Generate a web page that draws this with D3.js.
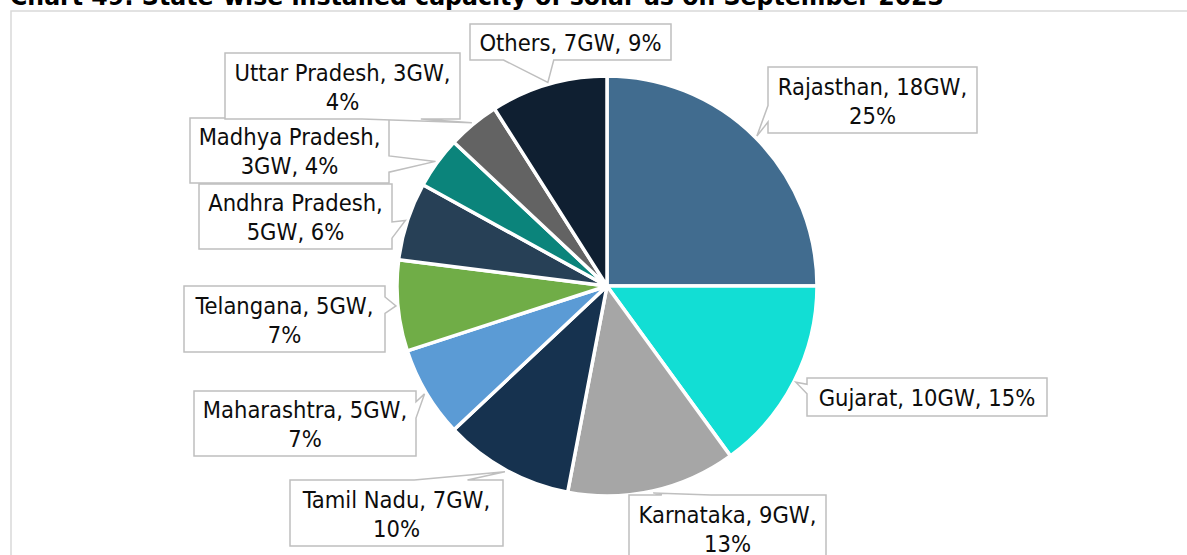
<!DOCTYPE html>
<html>
<head>
<meta charset="utf-8">
<script src="https://cdn.jsdelivr.net/npm/d3@7"></script>
<style>
  body { margin: 0; background: #fff; }
  svg { display: block; }
</style>
</head>
<body>
<svg id="chart" width="1187" height="555"></svg>
<script>
// State-wise installed solar capacity (September 2023)
const states = ["Rajasthan", "Gujarat", "Karnataka", "Tamil Nadu", "Maharashtra",
                "Telangana", "Andhra Pradesh", "Madhya Pradesh", "Uttar Pradesh", "Others"];
const capacityGW = [18, 10, 9, 7, 5, 5, 5, 3, 3, 7];
const sharePct = [25, 15, 13, 10, 7, 7, 6, 4, 4, 9];
const sliceColors = ["#416c8f", "#12ded4", "#a6a6a6", "#16324f", "#5b9bd5",
                     "#70ad47", "#274056", "#0b847b", "#636363", "#0f1f31"];

// Callout layout: box [x, y, w, h] and number of words on the first line (0 = single line)
const calloutBoxes = [
  [768, 67, 209, 66], [807, 378, 240, 38], [629, 495, 197, 66], [290, 480, 213, 66],
  [194, 391, 222, 65], [184, 286, 201, 66], [199, 184, 193, 65], [190, 118, 199, 65],
  [225, 53, 235, 66], [470, 24, 201, 36]
];
const firstLineWords = [2, 0, 2, 3, 2, 2, 2, 2, 3, 0];

const W = 1187, H = 555;
const cx = 607, cy = 286, R = 210;
const FONT = "'DejaVu Sans Condensed', 'DejaVu Sans', Tahoma, sans-serif";

const svg = d3.select("#chart");

// Chart area frame
svg.append("rect")
  .attr("x", 11).attr("y", 11)
  .attr("width", W + 20).attr("height", H + 20)
  .attr("fill", "#fff")
  .attr("stroke", "#d9d9d9").attr("stroke-width", 1.5);

// Title (sits above the frame, partly clipped by the page edge)
svg.append("text")
  .attr("x", 10).attr("y", 4.5)
  .attr("font-family", FONT)
  .attr("font-stretch", "condensed")
  .attr("font-weight", "bold")
  .attr("font-size", 24)
  .attr("textLength", 934)
  .attr("lengthAdjust", "spacingAndGlyphs")
  .attr("fill", "#000")
  .text("Chart 49: State-wise installed capacity of solar as on September 2023");

// Pie
const data = states.map((s, i) => ({ state: s, gw: capacityGW[i], pct: sharePct[i], color: sliceColors[i], i }));
const pie = d3.pie().sort(null).value(d => d.pct);
const arcs = pie(data);
const arc = d3.arc().innerRadius(0).outerRadius(R);

const g = svg.append("g").attr("transform", `translate(${cx},${cy})`);
g.selectAll("path.slice")
  .data(arcs)
  .join("path")
  .attr("class", "slice")
  .attr("d", arc)
  .attr("fill", d => d.data.color)
  .attr("stroke", "#fff")
  .attr("stroke-width", 3.5)
  .attr("stroke-linejoin", "round");

// Rectangular callout with a wedge pointing at (tx, ty)
function wedgeRectCallout(l, t, w, h, tx, ty) {
  const r = l + w, b = t + h, hc = l + w / 2, vc = t + h / 2;
  const dxPos = tx - hc, dyPos = ty - vc;
  const xPos = tx, yPos = ty;
  const dq = dxPos * h / w;
  const dz = Math.abs(dyPos) - Math.abs(dq);
  const x1 = l + w * (dxPos > 0 ? 7 : 2) / 12, x2 = l + w * (dxPos > 0 ? 10 : 5) / 12;
  const y1 = t + h * (dyPos > 0 ? 7 : 2) / 12, y2 = t + h * (dyPos > 0 ? 10 : 5) / 12;
  const xl = dz > 0 ? l : (dxPos > 0 ? l : xPos);
  const yl = dz > 0 ? y1 : (dxPos > 0 ? y1 : yPos);
  const xt = dz > 0 ? (dyPos > 0 ? x1 : xPos) : x1;
  const yt = dz > 0 ? (dyPos > 0 ? t : yPos) : t;
  const xr = dz > 0 ? r : (dxPos > 0 ? xPos : r);
  const yr = dz > 0 ? y1 : (dxPos > 0 ? yPos : y1);
  const xb = dz > 0 ? (dyPos > 0 ? xPos : x1) : x1;
  const yb = dz > 0 ? (dyPos > 0 ? yPos : b) : b;
  const p = d3.path();
  p.moveTo(l, t); p.lineTo(x1, t); p.lineTo(xt, yt); p.lineTo(x2, t); p.lineTo(r, t);
  p.lineTo(r, y1); p.lineTo(xr, yr); p.lineTo(r, y2); p.lineTo(r, b);
  p.lineTo(x2, b); p.lineTo(xb, yb); p.lineTo(x1, b); p.lineTo(l, b);
  p.lineTo(l, y2); p.lineTo(xl, yl); p.lineTo(l, y1); p.closePath();
  return p.toString();
}

const labels = svg.append("g");
arcs.forEach((a, i) => {
  const [bx, by, bw, bh] = calloutBoxes[i];
  const mid = (a.startAngle + a.endAngle) / 2;
  const tx = cx + (R + 2) * Math.sin(mid);
  const ty = cy - (R + 2) * Math.cos(mid);
  const cg = labels.append("g");
  cg.append("path")
    .attr("d", wedgeRectCallout(bx, by, bw, bh, tx, ty))
    .attr("fill", "#fff")
    .attr("stroke", "#bfbfbf")
    .attr("stroke-width", 1.5);
  const words = `${a.data.state}, ${a.data.gw}GW, ${a.data.pct}%`.split(" ");
  const n = firstLineWords[i];
  const lines = n ? [words.slice(0, n).join(" "), words.slice(n).join(" ")] : [words.join(" ")];
  const lh = 29;
  lines.forEach((ln, k) => {
    cg.append("text")
      .attr("x", bx + bw / 2)
      .attr("y", by + bh / 2 + (k - (lines.length - 1) / 2) * lh + 9)
      .attr("text-anchor", "middle")
      .attr("font-family", FONT)
      .attr("font-stretch", "condensed")
      .attr("font-size", 23.5)
      .attr("fill", "#0d0d0d")
      .text(ln);
  });
});
</script>
</body>
</html>
